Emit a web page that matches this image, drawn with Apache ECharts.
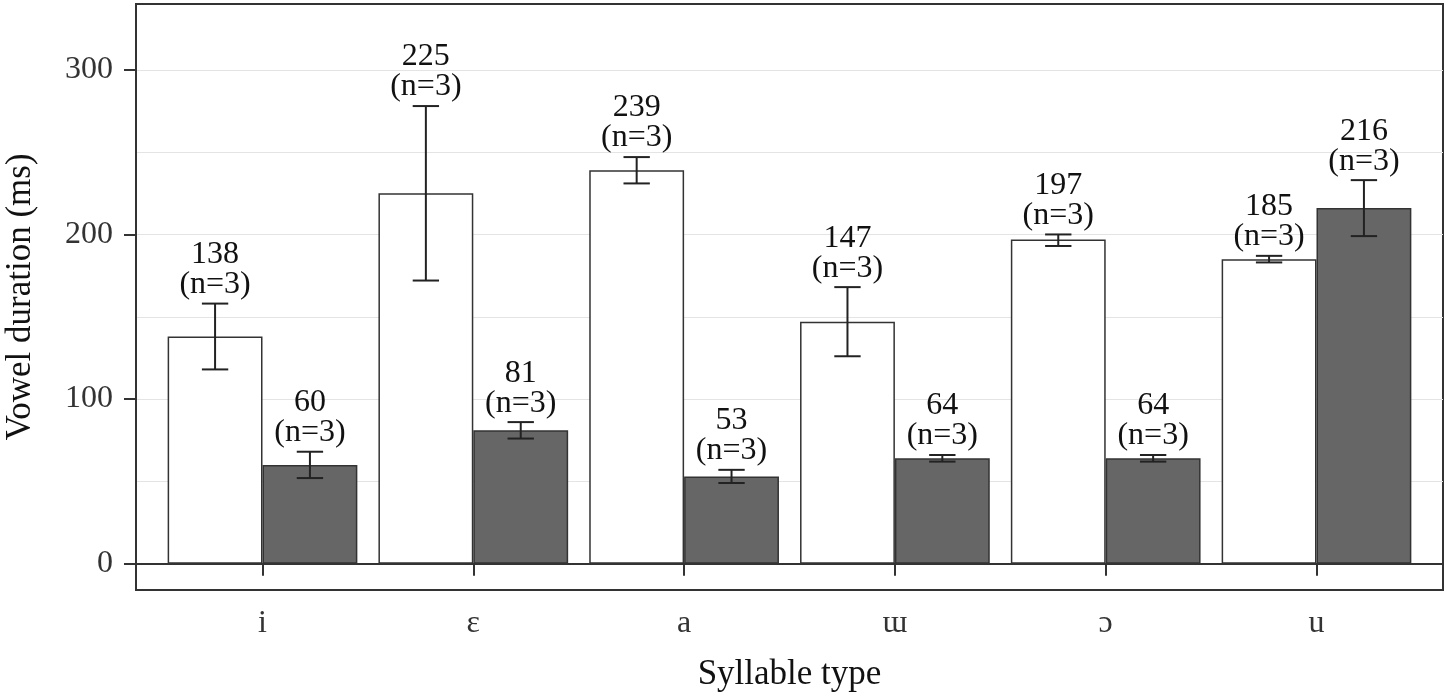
<!DOCTYPE html>
<html><head><meta charset="utf-8">
<script src="https://cdn.jsdelivr.net/npm/echarts@6/dist/echarts.min.js"></script>
<style>html,body{margin:0;padding:0;background:#fff}#c{width:1451px;height:698px}</style>
</head><body><div id="c"></div>
<script>
const categories = ['i', 'ɛ', 'a', 'ɯ', 'ɔ', 'u'];
const openMeans = [138, 225, 239, 147, 197, 185];
const openLow = [118, 172, 231, 126, 193, 183];
const openHigh = [158, 278, 247, 168, 200, 187];
const closedMeans = [60, 81, 53, 64, 64, 216];
const closedLow = [52, 76, 49, 62, 62, 199];
const closedHigh = [68, 86, 57, 66, 66, 233];
const counts = [3, 3, 3, 3, 3, 3];
const yTicks = [0, 100, 200, 300];
const yGrid = [50, 100, 150, 200, 250, 300];
const yMin = -16, yMax = 340;

const FONT = "'Liberation Serif', 'DejaVu Serif', serif";

const errOpen = categories.map((c, i) => [i, openMeans[i], openLow[i], openHigh[i], counts[i], 0]);
const errClosed = categories.map((c, i) => [i, closedMeans[i], closedLow[i], closedHigh[i], counts[i], 1]);

function renderErr(params, api) {
  const idx = api.value(0);
  const side = api.value(5);
  const band = api.size([1, 0])[0];
  const cx = api.coord([idx, 0])[0] + (side === 0 ? -1 : 1) * band * 0.225;
  const yLo = api.coord([idx, api.value(2)])[1];
  const yHi = api.coord([idx, api.value(3)])[1];
  const hw = band * 0.0625;
  const ls = { stroke: '#222', lineWidth: 2 };
  return {
    type: 'group',
    children: [
      { type: 'line', shape: { x1: cx, y1: yLo, x2: cx, y2: yHi }, style: ls },
      { type: 'line', shape: { x1: cx - hw, y1: yLo, x2: cx + hw, y2: yLo }, style: ls },
      { type: 'line', shape: { x1: cx - hw, y1: yHi, x2: cx + hw, y2: yHi }, style: ls },
      {
        type: 'text', x: cx, y: yHi - 4,
        style: {
          text: api.value(1) + '\n(n=' + api.value(4) + ')',
          align: 'center', verticalAlign: 'bottom',
          fontSize: 32, lineHeight: 30, fontFamily: FONT, fill: '#111'
        }
      }
    ]
  };
}

const chart = echarts.init(document.getElementById('c'), null, { renderer: 'canvas' });
chart.setOption({
  animation: false,
  backgroundColor: '#fff',
  grid: [
    { left: 136, right: 8, top: 4, bottom: 108, show: true, borderColor: '#333', borderWidth: 2, backgroundColor: 'transparent', outerBoundsMode: 'none', containLabel: false },
    { left: 157.1, right: 29.1, top: 4, bottom: 108, show: false, outerBoundsMode: 'none', containLabel: false }
  ],
  xAxis: [
    { gridIndex: 0, type: 'value', min: 0, max: 1, show: false },
    {
      gridIndex: 1, type: 'category', data: categories,
      axisLine: { show: true, lineStyle: { color: '#333', width: 2 } },
      axisTick: { show: true, alignWithLabel: true, length: 12, lineStyle: { color: '#333', width: 2 } },
      axisLabel: { margin: 18, fontSize: 32, color: '#333', fontFamily: FONT },
      name: 'Syllable type', nameLocation: 'middle', nameGap: 67,
      nameTextStyle: { fontSize: 35, color: '#111', fontFamily: FONT }
    }
  ],
  yAxis: [
    {
      gridIndex: 0, type: 'value', min: yMin, max: yMax,
      axisLine: { show: true, lineStyle: { color: '#333', width: 2 } },
      axisTick: { show: true, customValues: yTicks, length: 12, lineStyle: { color: '#333', width: 2 } },
      axisLabel: { customValues: yTicks, margin: 23, fontSize: 32, color: '#333', fontFamily: FONT },
      splitLine: { show: false },
      name: 'Vowel duration (ms)', nameLocation: 'middle', nameGap: 98, nameRotate: 90,
      nameTextStyle: { fontSize: 35, color: '#111', fontFamily: FONT }
    },
    { gridIndex: 1, type: 'value', min: yMin, max: yMax, show: false }
  ],
  series: [
    {
      type: 'line', xAxisIndex: 0, yAxisIndex: 0, data: [], z: 0, zlevel: 0, silent: true,
      markLine: {
        silent: true, symbol: 'none', animation: false, z: 0,
        label: { show: false },
        lineStyle: { color: '#e4e4e4', width: 1.2, type: 'solid' },
        data: yGrid.map(v => ({ yAxis: v }))
      }
    },
    {
      type: 'bar', xAxisIndex: 1, yAxisIndex: 1, data: openMeans, z: 2,
      barWidth: '45%', barGap: '0%',
      itemStyle: { color: '#ffffff', borderColor: '#333', borderWidth: 1.5 }
    },
    {
      type: 'bar', xAxisIndex: 1, yAxisIndex: 1, data: closedMeans, z: 2,
      barWidth: '45%', barGap: '0%',
      itemStyle: { color: '#666666', borderColor: '#333', borderWidth: 1.5 }
    },
    {
      type: 'line', xAxisIndex: 0, yAxisIndex: 0, data: [], z: 3, silent: true,
      markLine: {
        silent: true, symbol: 'none', animation: false, z: 3,
        label: { show: false },
        lineStyle: { color: '#333', width: 2, type: 'solid' },
        data: [{ yAxis: 0 }]
      }
    },
    {
      type: 'custom', xAxisIndex: 1, yAxisIndex: 1, data: errOpen, z: 6,
      renderItem: renderErr, clip: false, encode: { x: 0, y: [1, 2, 3] }
    },
    {
      type: 'custom', xAxisIndex: 1, yAxisIndex: 1, data: errClosed, z: 6,
      renderItem: renderErr, clip: false, encode: { x: 0, y: [1, 2, 3] }
    }
  ]
});
</script>
</body></html>
